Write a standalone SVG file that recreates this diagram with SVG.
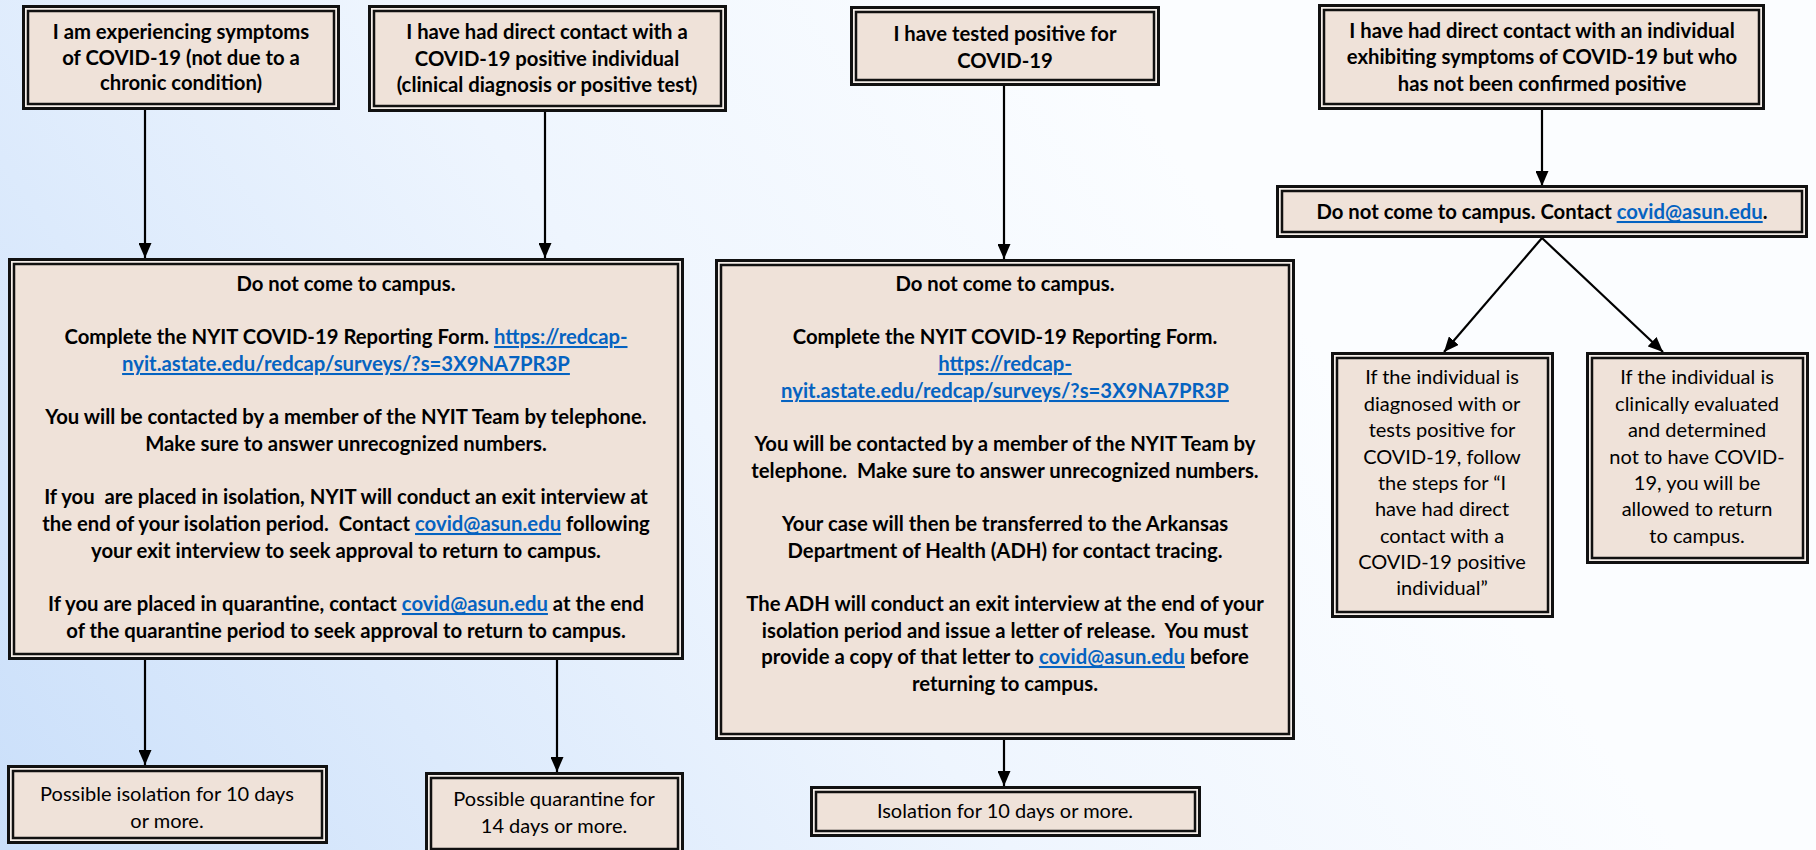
<svg xmlns="http://www.w3.org/2000/svg" width="1816" height="850" viewBox="0 0 1816 850">
<defs>
<linearGradient id="bg" gradientUnits="userSpaceOnUse" x1="0" y1="850" x2="1100" y2="50">
<stop offset="0" stop-color="#cadffa"/>
<stop offset="0.6" stop-color="#eef5fe"/>
<stop offset="1" stop-color="#fbfdff"/>
</linearGradient>
<marker id="ah" markerUnits="userSpaceOnUse" viewBox="0 0 15 13" refX="15" refY="6.5" markerWidth="15" markerHeight="13" orient="auto">
<path d="M0,0 L15,6.5 L0,13 z" fill="#000"/>
</marker>
<style>
.o{fill:#f5eee9;stroke:#111;stroke-width:3}
.i{fill:#efe2d9;stroke:#111;stroke-width:2.5}
.t{font-family:Lato,"Liberation Sans",sans-serif;font-size:20px;fill:#000;text-anchor:middle}
.b{font-weight:bold;font-size:20.3px}
.l{fill:#0563c1;text-decoration:underline}
.c line{stroke:#000;stroke-width:2.2;marker-end:url(#ah)}
</style>
</defs>
<rect width="1816" height="850" fill="url(#bg)"/>

<g class="c" id="connectors">
<line x1="145" y1="110" x2="145" y2="258"/>
<line x1="545" y1="112" x2="545" y2="258"/>
<line x1="1004" y1="86" x2="1004" y2="259"/>
<line x1="1542" y1="110" x2="1542" y2="186"/>
<line x1="1542" y1="238" x2="1444" y2="352"/>
<line x1="1542" y1="238" x2="1663" y2="352"/>
<line x1="145" y1="660" x2="145" y2="765"/>
<line x1="557" y1="660" x2="557" y2="772"/>
<line x1="1004" y1="740" x2="1004" y2="786"/>
</g>

<g id="n-symptoms">
<rect class="o" x="23.5" y="6.5" width="315" height="102"/>
<rect class="i" x="28" y="11" width="306" height="93"/>
<text class="t b" x="181" y="39">I am experiencing symptoms</text>
<text class="t b" x="181" y="65">of COVID-19 (not due to a</text>
<text class="t b" x="181" y="90">chronic condition)</text>
</g>

<g id="n-contact-positive">
<rect class="o" x="369.5" y="6.5" width="356" height="104"/>
<rect class="i" x="374" y="11" width="347" height="95"/>
<text class="t b" x="547" y="39">I have had direct contact with a</text>
<text class="t b" x="547" y="66">COVID-19 positive individual</text>
<text class="t b" x="547" y="92">(clinical diagnosis or positive test)</text>
</g>

<g id="n-tested-positive">
<rect class="o" x="851.5" y="7.5" width="307" height="77"/>
<rect class="i" x="856" y="12" width="298" height="68"/>
<text class="t b" x="1005" y="41">I have tested positive for</text>
<text class="t b" x="1005" y="68">COVID-19</text>
</g>

<g id="n-contact-symptomatic">
<rect class="o" x="1319.5" y="5.5" width="444" height="103"/>
<rect class="i" x="1324" y="10" width="435" height="94"/>
<text class="t b" x="1542" y="38">I have had direct contact with an individual</text>
<text class="t b" x="1542" y="64">exhibiting symptoms of COVID-19 but who</text>
<text class="t b" x="1542" y="91">has not been confirmed positive</text>
</g>

<g id="n-contact-covid">
<rect class="o" x="1277.5" y="186.5" width="529" height="50"/>
<rect class="i" x="1282" y="191" width="520" height="41"/>
<text class="t b" x="1542" y="219">Do not come to campus. Contact <tspan class="l">covid@asun.edu</tspan>.</text>
</g>

<g id="n-steps-a">
<rect class="o" x="9.5" y="259.5" width="673" height="399"/>
<rect class="i" x="14" y="264" width="664" height="390"/>
<text class="t b" x="346" y="291">Do not come to campus.</text>
<text class="t b" x="346" y="344">Complete the NYIT COVID-19 Reporting Form. <tspan class="l">https://redcap-</tspan></text>
<text class="t b" x="346" y="371"><tspan class="l">nyit.astate.edu/redcap/surveys/?s=3X9NA7PR3P</tspan></text>
<text class="t b" x="346" y="424">You will be contacted by a member of the NYIT Team by telephone.</text>
<text class="t b" x="346" y="451">Make sure to answer unrecognized numbers.</text>
<text class="t b" x="346" y="504" style="white-space:pre">If you  are placed in isolation, NYIT will conduct an exit interview at</text>
<text class="t b" x="346" y="531" style="white-space:pre">the end of your isolation period.  Contact <tspan class="l">covid@asun.edu</tspan> following</text>
<text class="t b" x="346" y="558">your exit interview to seek approval to return to campus.</text>
<text class="t b" x="346" y="611">If you are placed in quarantine, contact <tspan class="l">covid@asun.edu</tspan> at the end</text>
<text class="t b" x="346" y="638">of the quarantine period to seek approval to return to campus.</text>
</g>

<g id="n-steps-b">
<rect class="o" x="716.5" y="260.5" width="577" height="478"/>
<rect class="i" x="721" y="265" width="568" height="469"/>
<text class="t b" x="1005" y="291">Do not come to campus.</text>
<text class="t b" x="1005" y="344">Complete the NYIT COVID-19 Reporting Form.</text>
<text class="t b" x="1005" y="371"><tspan class="l">https://redcap-</tspan></text>
<text class="t b" x="1005" y="398"><tspan class="l">nyit.astate.edu/redcap/surveys/?s=3X9NA7PR3P</tspan></text>
<text class="t b" x="1005" y="451">You will be contacted by a member of the NYIT Team by</text>
<text class="t b" x="1005" y="478" style="white-space:pre">telephone.  Make sure to answer unrecognized numbers.</text>
<text class="t b" x="1005" y="531">Your case will then be transferred to the Arkansas</text>
<text class="t b" x="1005" y="558">Department of Health (ADH) for contact tracing.</text>
<text class="t b" x="1005" y="611">The ADH will conduct an exit interview at the end of your</text>
<text class="t b" x="1005" y="638" style="white-space:pre">isolation period and issue a letter of release.  You must</text>
<text class="t b" x="1005" y="664">provide a copy of that letter to <tspan class="l">covid@asun.edu</tspan> before</text>
<text class="t b" x="1005" y="691">returning to campus.</text>
</g>

<g id="n-diagnosed">
<rect class="o" x="1332.5" y="353.5" width="220" height="263"/>
<rect class="i" x="1337" y="358" width="211" height="254"/>
<text class="t" x="1442" y="384">If the individual is</text>
<text class="t" x="1442" y="411">diagnosed with or</text>
<text class="t" x="1442" y="437">tests positive for</text>
<text class="t" x="1442" y="464">COVID-19, follow</text>
<text class="t" x="1442" y="490">the steps for “I</text>
<text class="t" x="1442" y="516">have had direct</text>
<text class="t" x="1442" y="543">contact with a</text>
<text class="t" x="1442" y="569">COVID-19 positive</text>
<text class="t" x="1442" y="595">individual”</text>
</g>

<g id="n-not-covid">
<rect class="o" x="1587.5" y="353.5" width="220" height="209"/>
<rect class="i" x="1592" y="358" width="211" height="200"/>
<text class="t" x="1697" y="384">If the individual is</text>
<text class="t" x="1697" y="411">clinically evaluated</text>
<text class="t" x="1697" y="437">and determined</text>
<text class="t" x="1697" y="464">not to have COVID-</text>
<text class="t" x="1697" y="490">19, you will be</text>
<text class="t" x="1697" y="516">allowed to return</text>
<text class="t" x="1697" y="543">to campus.</text>
</g>

<g id="n-isolation-possible">
<rect class="o" x="8.5" y="766.5" width="318" height="76"/>
<rect class="i" x="13" y="771" width="309" height="67"/>
<text class="t" x="167" y="801">Possible isolation for 10 days</text>
<text class="t" x="167" y="828">or more.</text>
</g>

<g id="n-quarantine-possible">
<rect class="o" x="426.5" y="773.5" width="256" height="80"/>
<rect class="i" x="431" y="778" width="247" height="71"/>
<text class="t" x="554" y="806">Possible quarantine for</text>
<text class="t" x="554" y="833">14 days or more.</text>
</g>

<g id="n-isolation">
<rect class="o" x="811.5" y="787.5" width="388" height="48"/>
<rect class="i" x="816" y="792" width="379" height="39"/>
<text class="t" x="1005" y="818">Isolation for 10 days or more.</text>
</g>
</svg>
